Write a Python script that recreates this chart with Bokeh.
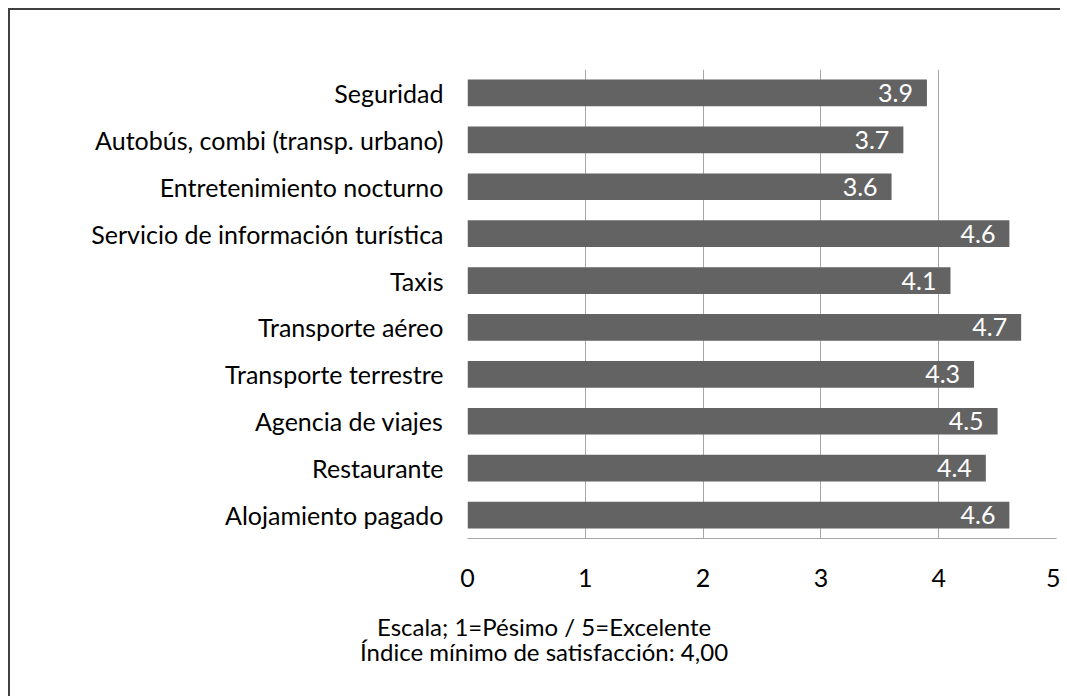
from bokeh.plotting import figure
from bokeh.models import ColumnDataSource, FactorRange, Range1d, FixedTicker, LinearAxis
from bokeh.embed import file_html
from bokeh.resources import INLINE
from bokeh.core.properties import value

categories = [
    "Seguridad",
    "Autobús, combi (transp. urbano)",
    "Entretenimiento nocturno",
    "Servicio de información turística",
    "Taxis",
    "Transporte aéreo",
    "Transporte terrestre",
    "Agencia de viajes",
    "Restaurante",
    "Alojamiento pagado",
]
scores = [3.9, 3.7, 3.6, 4.6, 4.1, 4.7, 4.3, 4.5, 4.4, 4.6]
x_ticks = [0, 1, 2, 3, 4, 5]
footnote_lines = ["Escala; 1=Pésimo / 5=Excelente", "Índice mínimo de satisfacción: 4,00"]
footnote_x = 0.65

FONT = "Lato"
FS = "25px"
BAR = "#636363"
GRID = "#a6a6a6"

src = ColumnDataSource(dict(cat=categories, score=scores,
                            lbl=[f"{v:.1f}" for v in scores]))

W, H = 1050, 686
p = figure(width=W, height=H,
           y_range=FactorRange(*reversed(categories)),
           x_range=Range1d(0, 5),
           output_backend="svg", toolbar_location=None,
           min_border_left=457, min_border_right=6,
           min_border_top=59, min_border_bottom=160)

p.hbar(y="cat", left=0, right="score", height=0.57, source=src,
       fill_color=BAR, line_color=None)
p.text(x="score", y="cat", text="lbl", source=src, text_align="right",
       text_baseline="middle", x_offset=-14, text_color="white",
       text_font=value(FONT), text_font_size=FS)

p.xaxis.ticker = FixedTicker(ticks=x_ticks)
p.xaxis.axis_line_color = GRID
p.xaxis.major_tick_line_color = None
p.xaxis.minor_tick_line_color = None
p.xaxis.major_tick_out = 0
p.xaxis.major_label_text_font = FONT
p.xaxis.major_label_text_font_size = FS
p.xaxis.major_label_text_color = "black"
p.xaxis.major_label_standoff = 30

p.yaxis.axis_line_color = None
p.yaxis.major_tick_line_color = None
p.yaxis.minor_tick_line_color = None
p.yaxis.major_tick_out = 0
p.yaxis.major_label_text_font = FONT
p.yaxis.major_label_text_font_size = FS
p.yaxis.major_label_text_color = "black"
p.yaxis.major_label_standoff = 24

p.xgrid.ticker = FixedTicker(ticks=x_ticks)
p.xgrid.grid_line_color = GRID
p.ygrid.grid_line_color = None
p.outline_line_color = None

# footnote lines drawn as tick labels of extra bottom axes
for line, so in zip(footnote_lines, [22, -7]):
    ax = LinearAxis(ticker=FixedTicker(ticks=[footnote_x]),
                    major_label_overrides={footnote_x: line},
                    axis_line_color=None, major_tick_line_color=None,
                    minor_tick_line_color=None, major_tick_out=0, major_tick_in=0,
                    minor_tick_out=0, minor_tick_in=0,
                    major_label_standoff=so,
                    major_label_text_font=FONT, major_label_text_font_size="24px",
                    major_label_text_color="black")
    p.add_layout(ax, "below")

p.styles = {"border-top": "2px solid #404040", "border-left": "2px solid #404040",
            "border-right": "0px none", "border-bottom": "0px none",
            "box-sizing": "content-box",
            "margin-top": "8px", "margin-left": "8px"}

open("out.html", "w").write(file_html(p, INLINE))
